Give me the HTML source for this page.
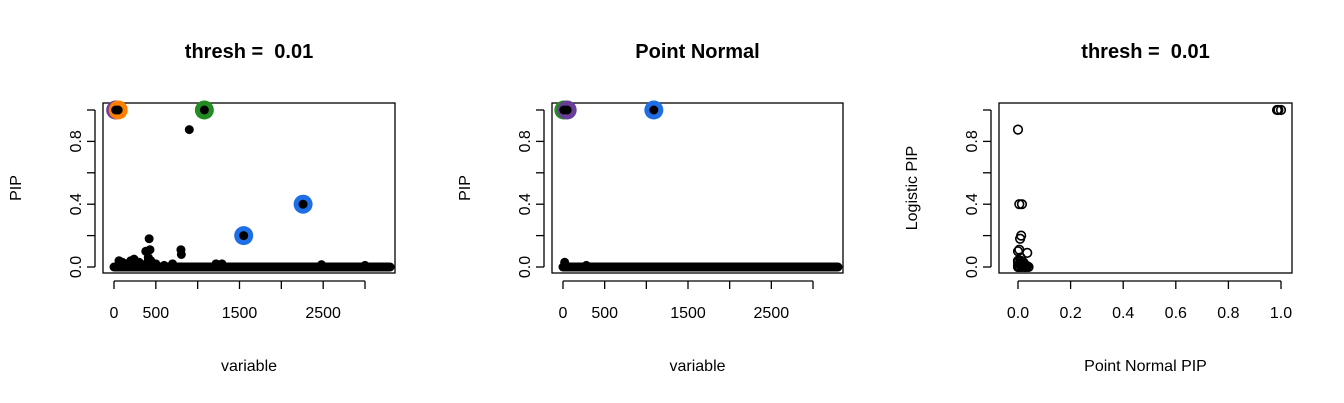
<!DOCTYPE html>
<html><head><meta charset="utf-8"><style>
html,body{margin:0;padding:0;background:#fff;}
svg{display:block;font-family:"Liberation Sans",Arial,sans-serif;}
text{white-space:pre;}
</style></head><body>
<svg id="c" width="1344" height="403" viewBox="0 0 1344 403" xmlns="http://www.w3.org/2000/svg"></svg>
<script>
// ---- data ----
const nVars = 3300;
// panel 1 (logistic, thresh 0.01): notable non-zero PIPs [variable, pip]
const p1Vars = [20, 50, 1080, 900, 1550, 2260, 420, 430, 380, 410, 800, 805, 100, 200, 240, 700, 1220, 1290, 2480, 3000, 60, 150, 300, 500, 600, 400, 440, 470];
const p1Pips = [1, 1, 1, 0.875, 0.2, 0.4, 0.18, 0.11, 0.1, 0.06, 0.11, 0.08, 0.03, 0.04, 0.05, 0.02, 0.02, 0.02, 0.015, 0.01, 0.04, 0.02, 0.03, 0.02, 0.01, 0.03, 0.04, 0.02];
const p1HighVars = [20, 50, 1080, 1550, 2260];
const p1HighCols = ["#6a3d9a", "#ff7f00", "#228b22", "#1e6fe6", "#1e6fe6"];
const p1HighPips = [1, 1, 1, 0.2, 0.4];
// panel 2 (point normal)
const p2Vars = [10, 50, 1090, 20, 280];
const p2Pips = [1, 1, 1, 0.03, 0.01];
const p2HighVars = [10, 50, 1090];
const p2HighCols = ["#228b22", "#6a3d9a", "#1e6fe6"];
// panel 3: point normal PIP vs logistic PIP
const p3Pn = [0.985, 0.99, 1.0, 0.0, 0.005, 0.015, 0.012, 0.008, 0.005, 0.035, 0.0, 0.01, 0.0, 0.02, 0.03, 0.005, 0.015, 0.025, 0.0, 0.04, 0.01, 0.0, 0.01, 0.02, 0.03, 0.005, 0.015, 0.025, 0.035, 0.0, 0.01, 0.02];
const p3Log = [1, 1, 1, 0.875, 0.4, 0.4, 0.2, 0.18, 0.11, 0.09, 0.1, 0.06, 0.04, 0.03, 0.0, 0.0, 0.0, 0.0, 0.0, 0.0, 0.02, 0.01, 0.01, 0.01, 0.01, 0.02, 0.02, 0.005, 0.005, 0.03, 0.04, 0.015];
const xTicksVar = [0, 500, 1000, 1500, 2000, 2500, 3000];
const xTickLabVar = ["0", "500", "", "1500", "", "2500", ""];
const yTicks = [0, 0.2, 0.4, 0.6, 0.8, 1];
const yTickLab = ["0.0", "", "0.4", "", "0.8", ""];
const x3Ticks = [0, 0.2, 0.4, 0.6, 0.8, 1];
const x3TickLab = ["0.0", "0.2", "0.4", "0.6", "0.8", "1.0"];

const svg = document.getElementById('c');
const NS = "http://www.w3.org/2000/svg";
function mk(tag, attrs, parent){const e=document.createElementNS(NS,tag);for(const k in attrs)e.setAttribute(k,attrs[k]);(parent||svg).appendChild(e);return e;}

const Y0 = 267, Y1 = 110;
const yS = v => Y0 + (Y1 - Y0) * v;

function panel(id, left, right, x0px, x1px, xmax, title, xlab, ylab, xt, xtl){
  const g = mk('g', {});
  
  
  const xS = v => x0px + (x1px - x0px) * v / xmax;
  const t = mk('text', {x:(left+right)/2, y:58, 'text-anchor':'middle', 'font-size':'20', 'font-weight':'bold'}, g);
  t.textContent = title;
  
  
  const box = mk('rect', {x:left, y:103, width:right-left, height:170, fill:'none', stroke:'#000', 'stroke-width':1.3}, g);
  
  
  const xa = mk('g', {}, g);
  
  
  mk('line', {x1:xS(xt[0]), x2:xS(xt[xt.length-1]), y1:281, y2:281, stroke:'#000', 'stroke-width':1.3}, xa);
  xt.forEach((v,i) => {
    mk('line', {x1:xS(v), x2:xS(v), y1:281, y2:289, stroke:'#000', 'stroke-width':1.3}, xa);
    if (xtl[i]) { const l = mk('text', {x:xS(v), y:318, 'text-anchor':'middle', 'font-size':'16'}, xa); l.textContent = xtl[i];
      
       }
  });
  const ya = mk('g', {}, g);
  
  
  mk('line', {x1:left-8, x2:left-8, y1:yS(0), y2:yS(1), stroke:'#000', 'stroke-width':1.3}, ya);
  yTicks.forEach((v,i) => {
    mk('line', {x1:left-16, x2:left-8, y1:yS(v), y2:yS(v), stroke:'#000', 'stroke-width':1.3}, ya);
    if (yTickLab[i]) { const l = mk('text', {x:left-22, y:yS(v), 'text-anchor':'middle', 'font-size':'16', transform:`rotate(-90 ${left-22} ${yS(v)})`}, ya); l.textContent = yTickLab[i];
      
       }
  });
  const xl = mk('text', {x:(left+right)/2, y:371, 'text-anchor':'middle', 'font-size':'16'}, g);
  xl.textContent = xlab;
  
  
  const yx = left - 82, yy = 188;
  const yl = mk('text', {x:yx, y:yy, 'text-anchor':'middle', 'font-size':'16', transform:`rotate(-90 ${yx} ${yy})`}, g);
  yl.textContent = ylab;
  
  
  return {g, xS};
}

// Panel 1
let P = panel('panel-logistic', 103, 395, 114, 365, 3000, 'thresh =  0.01', 'variable', 'PIP', xTicksVar, xTickLabVar);
p1HighVars.forEach((v,i) => {
  const c = mk('circle', {cx:P.xS(v), cy:yS(p1HighPips[i]), r:9.5, fill:p1HighCols[i]}, P.g);
  
  
});
const base1 = mk('line', {x1:P.xS(0), x2:P.xS(nVars), y1:yS(0), y2:yS(0), stroke:'#000', 'stroke-width':9, 'stroke-linecap':'round'}, P.g);


p1Vars.forEach((v,i) => {
  const c = mk('circle', {cx:P.xS(v), cy:yS(p1Pips[i]), r:4.5, fill:'#000'}, P.g);
  
  
});

// Panel 2
P = panel('panel-point-normal', 552, 843, 563, 813, 3000, 'Point Normal', 'variable', 'PIP', xTicksVar, xTickLabVar);
p2HighVars.forEach((v,i) => {
  const c = mk('circle', {cx:P.xS(v), cy:yS(1), r:9.5, fill:p2HighCols[i]}, P.g);
  
  
});
const base2 = mk('line', {x1:P.xS(0), x2:P.xS(nVars), y1:yS(0), y2:yS(0), stroke:'#000', 'stroke-width':9, 'stroke-linecap':'round'}, P.g);


p2Vars.forEach((v,i) => {
  const c = mk('circle', {cx:P.xS(v), cy:yS(p2Pips[i]), r:4.5, fill:'#000'}, P.g);
  
  
});

// Panel 3
P = panel('panel-pip-comparison', 999, 1292, 1018, 1281, 1, 'thresh =  0.01', 'Point Normal PIP', 'Logistic PIP', x3Ticks, x3TickLab);
p3Pn.forEach((v,i) => {
  const c = mk('circle', {cx:P.xS(v), cy:yS(p3Log[i]), r:4.3, fill:'none', stroke:'#000', 'stroke-width':1.6}, P.g);
  
  
});
</script>
</body></html>
